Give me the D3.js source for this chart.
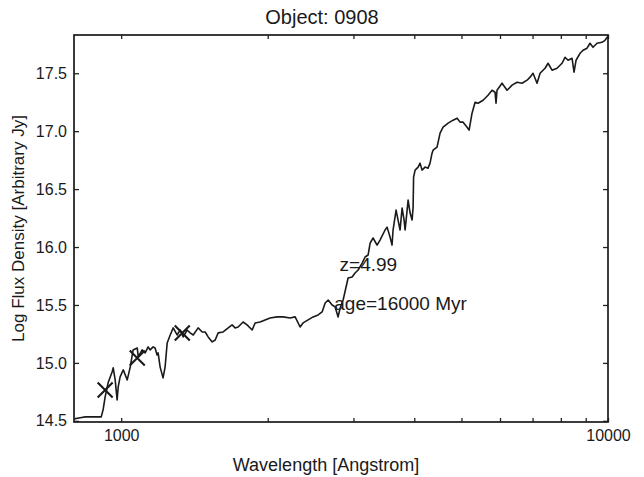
<!DOCTYPE html>
<html><head><meta charset="utf-8">
<script src="https://cdn.jsdelivr.net/npm/d3@7"></script>
<style>
body{margin:0;background:#fff}
svg{display:block}
text{font-family:"Liberation Sans",Arial,Helvetica,sans-serif;fill:#1a1a1a}
</style>
</head><body><svg id="chart" width="644" height="477"></svg>
<script>
const titleText = "Object: 0908";
const xLabel = "Wavelength [Angstrom]";
const yLabel = "Log Flux Density [Arbitrary Jy]";
const annotations = ["z=4.99", "age=16000 Myr"];

const wavelength = [801,824,844,872,910,918,927,940,958,963,972,981,986,995,1010,1029,1044,1058,1079,1084,
1104,1120,1136,1147,1163,1174,1185,1191,1202,1219,1231,1243,1261,1279,1303,1322,1341,1366,1386,1406,
1439,1467,1488,1509,1538,1560,1582,1620,1659,1690,1714,1739,1780,1814,1858,1884,1929,1975,2023,2091,
2151,2223,2277,2331,2364,2421,2479,2538,2587,2624,2662,2712,2751,2790,2817,2857,2897,2925,2981,3023,
3067,3126,3170,3215,3246,3292,3355,3402,3484,3517,3567,3601,3618,3670,3705,3740,3776,3812,3830,3867,
3885,3922,3959,3978,3987,4016,4073,4111,4150,4209,4269,4310,4351,4372,4455,4519,4584,4694,4806,4898,
4968,5039,5135,5184,5257,5333,5409,5538,5670,5778,5861,5888,5916,6058,6203,6353,6504,6660,6820,6917,
7015,7149,7252,7425,7531,7674,7858,8045,8161,8278,8436,8516,8597,8761,8887,9056,9183,9316,9494,9721,
9858,10000];
const logFlux = [14.517,14.526,14.534,14.534,14.534,14.595,14.707,14.828,14.922,14.957,14.853,14.681,14.793,14.879,14.940,14.853,14.966,15.112,15.129,15.052,
15.112,15.086,15.138,15.112,15.138,15.129,15.069,15.086,14.966,14.871,14.966,15.172,15.241,15.302,15.241,15.284,15.224,15.284,15.259,15.241,
15.302,15.267,15.267,15.224,15.181,15.198,15.259,15.267,15.302,15.328,15.302,15.310,15.353,15.328,15.284,15.345,15.353,15.371,15.388,15.397,
15.397,15.388,15.397,15.310,15.345,15.371,15.397,15.414,15.440,15.517,15.543,15.500,15.483,15.397,15.474,15.543,15.655,15.733,15.741,15.776,
15.802,15.862,15.914,15.931,16.034,16.078,16.017,16.060,16.147,16.172,16.086,16.017,16.147,16.319,16.233,16.147,16.336,16.233,16.147,16.319,
16.405,16.293,16.233,16.345,16.603,16.664,16.690,16.724,16.664,16.690,16.681,16.724,16.810,16.836,16.862,16.983,17.034,17.069,17.095,17.112,
17.078,17.078,17.034,17.009,17.155,17.250,17.241,17.267,17.310,17.353,17.336,17.241,17.353,17.414,17.353,17.397,17.422,17.414,17.440,17.466,
17.500,17.414,17.500,17.543,17.586,17.526,17.543,17.586,17.638,17.612,17.629,17.509,17.612,17.672,17.698,17.716,17.759,17.724,17.759,17.767,
17.784,17.819];

const markerWavelength = [927, 1079, 1335];
const markerFlux = [14.767, 15.043, 15.259];

const xTickValues = [1000,2000,3000,4000,5000,6000,7000,8000,9000,10000];
const xTickLabels = ["1000","","","","","","","","","10000"];
const yTickValues = [14.5,15.0,15.5,16.0,16.5,17.0,17.5];

const margin = {left:74, top:35, right:36, bottom:55};
const W = 644, H = 477;
const iw = W - margin.left - margin.right, ih = H - margin.top - margin.bottom;

const svg = d3.select("#chart");
const g = svg.append("g").attr("transform", `translate(${margin.left},${margin.top})`);

const x = d3.scaleLog().domain([800, 10000]).range([0, iw]);
const y = d3.scaleLinear().domain([14.49, 17.83]).range([ih, 0]);

const xFmt = (d) => xTickLabels[xTickValues.indexOf(d)];

const xb = g.append("g").attr("transform", `translate(0,${ih})`)
  .call(d3.axisBottom(x).tickValues(xTickValues).tickFormat(xFmt).tickSizeInner(-4).tickSizeOuter(0).tickPadding(8));
const xt = g.append("g")
  .call(d3.axisTop(x).tickValues(xTickValues).tickFormat("").tickSizeInner(-4).tickSizeOuter(0));
const yl = g.append("g")
  .call(d3.axisLeft(y).tickValues(yTickValues).tickFormat(d3.format(".1f")).tickSizeInner(-5).tickSizeOuter(0).tickPadding(7));
const yr = g.append("g").attr("transform", `translate(${iw},0)`)
  .call(d3.axisRight(y).tickValues(yTickValues).tickFormat("").tickSizeInner(-5).tickSizeOuter(0));

[xb, xt, yl, yr].forEach(a => {
  a.select(".domain").remove();
  a.selectAll(".tick line").attr("stroke", "#222").attr("stroke-width", 1.3);
  a.selectAll(".tick text").attr("font-size", 16).attr("fill", "#1a1a1a")
    .attr("font-family", '"Liberation Sans",Arial,sans-serif');
});

g.append("rect").attr("x", 0).attr("y", 0).attr("width", iw).attr("height", ih)
  .attr("fill", "none").attr("stroke", "#1a1a1a").attr("stroke-width", 1.7);

const line = d3.line().x((d, i) => x(wavelength[i])).y((d, i) => y(logFlux[i]));
g.append("path").datum(logFlux).attr("d", line)
  .attr("fill", "none").attr("stroke", "#1a1a1a").attr("stroke-width", 1.6).attr("stroke-linejoin", "round");

const ms = 7.5;
const markers = g.append("g");
markerWavelength.forEach((w, i) => {
  const cx = x(w), cy = y(markerFlux[i]);
  markers.append("path")
    .attr("d", `M${cx-ms},${cy-ms}L${cx+ms},${cy+ms}M${cx-ms},${cy+ms}L${cx+ms},${cy-ms}`)
    .attr("stroke", "#1a1a1a").attr("stroke-width", 2.1);
});

g.append("text").attr("x", x(2810)).attr("y", y(15.795)).attr("font-size", 19).text(annotations[0]);
g.append("text").attr("x", x(2740)).attr("y", y(15.455)).attr("font-size", 19).text(annotations[1]);

svg.append("text").attr("x", 322).attr("y", 24).attr("text-anchor", "middle").attr("font-size", 20).text(titleText);
svg.append("text").attr("x", 326).attr("y", 471).attr("text-anchor", "middle").attr("font-size", 18).text(xLabel);
svg.append("text").attr("transform", `translate(24,${margin.top + ih / 2}) rotate(-90)`)
  .attr("text-anchor", "middle").attr("font-size", 17).text(yLabel);
</script></body></html>
